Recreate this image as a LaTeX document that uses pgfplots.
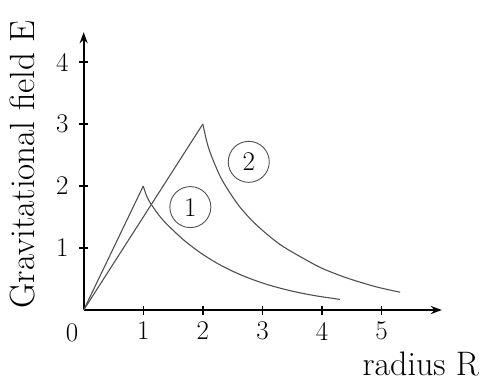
\documentclass[border=0pt]{standalone}
\usepackage{fontspec}
\usepackage{pgfplots}
\pgfplotsset{compat=1.18}
\usetikzlibrary{arrows.meta}

\definecolor{curve}{RGB}{80,80,80}

\begin{document}
\begin{tikzpicture}
\begin{axis}[
  scale only axis,
  width=358.2pt, height=277.8pt,
  xmin=0, xmax=6.01,
  ymin=0, ymax=4.48,
  axis lines=left,
  axis line style={line width=1.9pt, -{Stealth[length=11pt,width=8pt]}},
  xtick={1,2,3,4,5},
  ytick={1,2,3,4},
  tick align=center,
  major tick length=9pt,
  tick style={line width=1.4pt, black},
  tick label style={font=\fontsize{27}{29}\selectfont},
  /pgf/number format/assume math mode=true,
  xticklabel style={yshift=-4pt},
  yticklabel style={xshift=-7pt},
  clip=false,
]
% curve 1
\addplot[curve, line width=1.1pt] coordinates {(0,0) (1,2)};
\addplot[curve, line width=1.1pt, smooth] coordinates {
  (1,2) (1.05,1.855) (1.11,1.74) (1.25,1.545) (1.39,1.39) (1.67,1.136)
  (1.95,0.929) (2.23,0.759) (2.51,0.621) (2.79,0.508) (3.07,0.415)
  (3.35,0.339) (3.63,0.277) (3.91,0.227) (4.30,0.171)};
% curve 2
\addplot[curve, line width=1.1pt] coordinates {(0,0) (2,3)};
\addplot[curve, line width=1.1pt, smooth] coordinates {
  (2,3) (2.07,2.70) (2.15,2.47) (2.32,2.10) (2.59,1.70) (2.85,1.418)
  (3.15,1.163) (3.40,0.991) (3.91,0.715) (4.20,0.594) (4.47,0.500)
  (4.90,0.376) (5.31,0.287)};

\node[circle, draw=curve, line width=0.9pt, minimum size=41pt, inner sep=0pt,
  font=\fontsize{27}{29}\selectfont] at (axis cs:1.79,1.66) {1};
\node[circle, draw=curve, line width=0.9pt, minimum size=41pt, inner sep=0pt,
  font=\fontsize{27}{29}\selectfont] at (axis cs:2.77,2.39) {2};

\node[font=\fontsize{27}{29}\selectfont] at (axis cs:-0.196,-0.37) {0};
\node[font=\fontsize{34}{36}\selectfont, anchor=base west] at (axis cs:4.62,-1.06) {radius R};
\node[font=\fontsize{35}{37}\selectfont, rotate=90] at (axis cs:-1.02,2.35) {Gravitational field E};

\coordinate (tl) at (axis cs:-1.404,5.0);
\coordinate (br) at (axis cs:6.65,-1.145);
\end{axis}
\pgfresetboundingbox
\path[use as bounding box] (tl) rectangle (br);
\end{tikzpicture}
\end{document}
